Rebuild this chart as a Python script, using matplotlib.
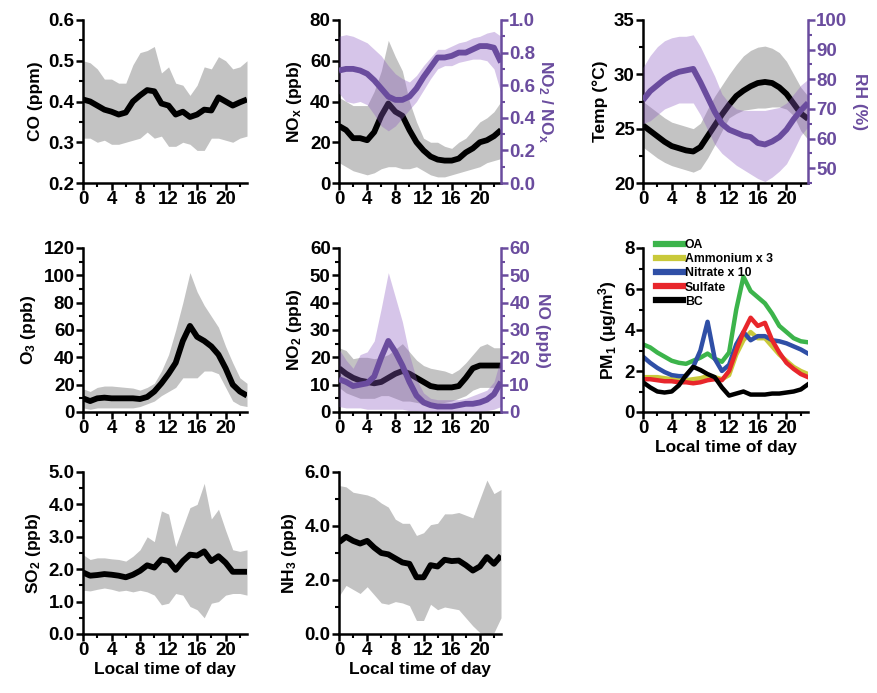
import matplotlib
matplotlib.use('Agg')
import matplotlib.pyplot as plt
from matplotlib.ticker import MultipleLocator, AutoMinorLocator, FormatStrFormatter
import numpy as np

plt.rcParams['font.family'] = ['Liberation Sans', 'DejaVu Sans']
plt.rcParams['font.weight'] = 'bold'
plt.rcParams['mathtext.fontset'] = 'custom'
plt.rcParams['mathtext.rm'] = 'Liberation Sans:bold'
plt.rcParams['mathtext.it'] = 'Liberation Sans:bold'
plt.rcParams['mathtext.bf'] = 'Liberation Sans:bold'

hours = np.arange(24)

co_mean = [0.405, 0.40, 0.39, 0.38, 0.375, 0.368, 0.373, 0.40, 0.415, 0.428, 0.425, 0.395,
           0.39, 0.368, 0.375, 0.362, 0.368, 0.38, 0.378, 0.41, 0.40, 0.39, 0.398, 0.405]
co_hi = [0.50, 0.495, 0.48, 0.455, 0.455, 0.445, 0.445, 0.49, 0.52, 0.525, 0.535, 0.47,
         0.485, 0.445, 0.44, 0.415, 0.44, 0.485, 0.48, 0.51, 0.50, 0.48, 0.485, 0.50]
co_lo = [0.31, 0.31, 0.30, 0.305, 0.295, 0.295, 0.30, 0.305, 0.31, 0.325, 0.31, 0.315,
         0.29, 0.29, 0.30, 0.295, 0.28, 0.28, 0.31, 0.31, 0.305, 0.30, 0.31, 0.315]

nox_mean = [28, 26, 22, 22, 21, 25, 33, 39, 35, 33, 26, 20, 16, 13, 11.5, 11, 11, 12, 15, 17, 20, 21, 23, 26]
nox_hi = [42, 40, 38, 38, 38, 45, 55, 70, 62, 55, 40, 30, 22, 20, 20, 18, 17, 20, 22, 26, 30, 32, 35, 40]
nox_lo = [10, 8, 6, 5, 4, 5, 7, 8, 8, 7, 7, 8, 6, 4, 3, 3, 4, 5, 6, 7, 8, 10, 11, 12]
ratio_mean = [0.69, 0.70, 0.70, 0.69, 0.67, 0.63, 0.58, 0.53, 0.51, 0.51, 0.53, 0.58,
              0.65, 0.71, 0.77, 0.77, 0.78, 0.80, 0.80, 0.82, 0.84, 0.84, 0.83, 0.74]
ratio_hi = [0.90, 0.91, 0.90, 0.88, 0.86, 0.82, 0.78, 0.72, 0.67, 0.64, 0.62, 0.66,
            0.72, 0.77, 0.82, 0.82, 0.84, 0.86, 0.87, 0.89, 0.90, 0.92, 0.93, 0.90]
ratio_lo = [0.55, 0.50, 0.49, 0.50, 0.48, 0.42, 0.35, 0.32, 0.35, 0.40, 0.45, 0.50,
            0.57, 0.64, 0.70, 0.72, 0.72, 0.74, 0.75, 0.76, 0.76, 0.75, 0.70, 0.55]

temp_mean = [25.3, 24.8, 24.3, 23.8, 23.4, 23.2, 23.0, 22.9, 23.3, 24.3, 25.3, 26.3,
             27.2, 28.0, 28.5, 28.9, 29.2, 29.3, 29.2, 28.8, 28.2, 27.3, 26.4, 25.9]
temp_hi = [27.5, 27.0, 26.5, 26.0, 25.6, 25.4, 25.2, 25.0, 25.5, 26.8, 28.0, 29.0,
           30.0, 30.9, 31.7, 32.2, 32.5, 32.6, 32.4, 32.0, 31.2, 30.0, 28.8, 28.0]
temp_lo = [23.3, 22.8, 22.3, 21.9, 21.6, 21.4, 21.2, 21.0, 21.3, 22.3, 23.5, 24.8,
           26.0, 26.4, 26.7, 26.8, 26.9, 26.9, 27.0, 27.0, 26.8, 26.2, 24.8, 24.0]
rh_mean = [73, 76, 78, 80, 81.5, 82.5, 83, 83.5, 79, 74, 69, 65, 63, 62, 61, 60.5, 58.5, 58, 59, 60.5, 63, 66.5, 69.5, 72]
rh_hi = [84, 88, 91, 93, 94, 94.5, 94.5, 95, 91, 86, 81, 75, 72, 70, 69.5, 69.5, 69.5, 69.5, 70, 70.5, 72, 75, 78, 80]
rh_lo = [65, 66, 68, 70, 71, 72, 72, 72, 68, 63, 58, 55, 53, 51, 49.5, 48, 46.5, 45.5, 47, 49, 51.5, 56, 61, 64]

o3_mean = [10, 8, 10, 10.5, 10, 10, 10, 10, 9.5, 11, 15, 21, 28, 36, 52, 63, 55, 52, 48, 42, 32, 20, 15, 12]
o3_hi = [17, 15, 18, 19, 19, 18.5, 18, 17.5, 16, 18, 21, 30, 42, 60, 80, 102, 88, 78, 70, 62, 48, 36, 25, 21]
o3_lo = [3, 2, 3, 3, 3, 3, 3, 3, 4, 6, 8, 12, 15, 18, 25, 25, 25, 30, 30, 28, 18, 8, 5, 4]

no2_mean = [16, 14, 12.5, 11.5, 11, 10.5, 11, 12.5, 14, 15, 14, 12.5, 11, 9.5, 9, 9, 9, 9.5, 12.5, 16, 17, 17, 17, 17]
no2_hi = [23.5, 22.5, 19.5, 20, 20, 19.5, 20, 21, 23, 25, 22, 19, 17, 16, 15.5, 15, 14, 15.5, 18, 21, 24, 25, 23.5, 23.5]
no2_lo = [9, 7, 6, 5, 5, 5, 6, 6, 5, 4, 4, 3.5, 3, 3, 3, 3.5, 4, 5, 6, 8, 9, 9, 9, 10]
no_mean = [12, 11, 9.5, 10, 10.5, 13, 20, 26, 22, 17, 11, 6, 3.5, 2.5, 2, 2, 2, 2.5, 3, 3, 3.5, 4.5, 6.5, 11]
no_hi = [23, 19, 16, 21, 22, 26, 38, 51, 42, 33, 21, 12, 7, 5, 4.5, 4.5, 4.5, 4.5, 5, 6, 7, 8, 11, 20]
no_lo = [2, 1.5, 1.5, 1.5, 1, 1, 1, 1, 1, 1, 0.5, 0.5, 0.3, 0.3, 0.3, 0.3, 0.3, 0.3, 0.3, 0.3, 0.3, 0.5, 1, 2]

pm_oa = [3.3, 3.15, 2.9, 2.7, 2.5, 2.4, 2.35, 2.5, 2.65, 2.85, 2.6, 2.45, 2.9, 5.0, 6.6, 5.9, 5.6, 5.3, 4.8, 4.2, 3.9, 3.6, 3.45, 3.4]
pm_nh4 = [1.7, 1.7, 1.7, 1.65, 1.6, 1.55, 1.55, 1.6, 1.65, 1.75, 1.7, 1.6, 1.8, 2.8, 3.5, 3.9, 3.6, 3.6, 3.2, 2.8, 2.5, 2.2, 2.0, 1.85]
pm_no3 = [2.7, 2.4, 2.15, 1.95, 1.8, 1.75, 1.75, 2.2, 3.0, 4.4, 2.6, 2.0, 2.3, 3.3, 3.9, 3.5, 3.7, 3.7, 3.5, 3.45, 3.35, 3.2, 3.05, 2.85]
pm_so4 = [1.6, 1.6, 1.55, 1.5, 1.5, 1.45, 1.45, 1.4, 1.45, 1.55, 1.6, 1.55, 2.0, 3.0, 3.9, 4.6, 4.2, 4.35, 3.5, 2.9, 2.4, 2.1, 1.85, 1.7]
pm_bc = [1.45, 1.2, 1.0, 0.95, 1.0, 1.3, 1.8, 2.2, 2.05, 1.85, 1.7, 1.2, 0.8, 0.9, 1.0, 0.85, 0.85, 0.85, 0.9, 0.9, 0.95, 1.0, 1.1, 1.35]
pm_labels = ['OA', 'Ammonium x 3', 'Nitrate x 10', 'Sulfate', 'BC']
pm_colors = ['#3cb44b', '#c9c93a', '#2f4fa6', '#e8262b', '#000000']

so2_mean = [1.9, 1.8, 1.82, 1.85, 1.83, 1.8, 1.75, 1.83, 1.95, 2.12, 2.05, 2.3, 2.25, 1.98, 2.25, 2.45, 2.42, 2.55, 2.25, 2.4, 2.2, 1.92, 1.92, 1.92]
so2_hi = [2.45, 2.3, 2.35, 2.35, 2.32, 2.3, 2.25, 2.4, 2.6, 3.0, 2.85, 3.8, 3.7, 2.7, 3.3, 3.9, 4.0, 4.65, 3.55, 3.85, 3.2, 2.6, 2.55, 2.6]
so2_lo = [1.35, 1.33, 1.38, 1.42, 1.38, 1.32, 1.35, 1.3, 1.35, 1.3, 1.2, 0.9, 0.95, 1.25, 1.2, 0.85, 0.75, 0.5, 0.95, 1.0, 1.2, 1.25, 1.25, 1.2]

nh3_mean = [3.4, 3.6, 3.45, 3.35, 3.45, 3.2, 3.0, 2.95, 2.8, 2.65, 2.6, 2.1, 2.1, 2.55, 2.5, 2.75, 2.7, 2.72, 2.55, 2.35, 2.5, 2.85, 2.6, 2.9]
nh3_hi = [5.5, 5.45, 5.25, 5.2, 5.15, 5.05, 4.85, 4.7, 4.25, 4.1, 4.1, 3.65, 3.75, 4.05, 4.1, 4.45, 4.45, 4.5, 4.4, 4.3, 5.0, 5.7, 5.2, 5.35]
nh3_lo = [1.4, 1.8, 1.65, 1.5, 1.75, 1.45, 1.15, 1.1, 1.2, 1.15, 1.05, 0.5, 0.5, 1.1, 0.9, 1.0, 0.95, 0.9, 0.6, 0.3, 0.05, 0.0, 0.05, 0.6]

GRAY = '#c3c3c3'
PURPLE = '#6a4c9e'
PFILL = '#8c5ac0'
TICK_FS = 13.5
LAB_FS = 12.5

W, H = 877, 693
cols = [83, 339, 643]
widths = [164, 162, 165]
rows = [(20, 183), (248, 412), (472, 634)]


def make_ax(fig, c, r):
    top, bot = rows[r]
    return fig.add_axes([cols[c] / W, 1 - bot / H, widths[c] / W, (bot - top) / H])


def style(ax, ymin, ymax, major, fmt, right=False, color='black'):
    ax.set_xlim(0, 23)
    ax.set_ylim(ymin, ymax)
    ax.xaxis.set_major_locator(MultipleLocator(4))
    ax.xaxis.set_minor_locator(MultipleLocator(2))
    ax.yaxis.set_major_locator(MultipleLocator(major))
    ax.yaxis.set_minor_locator(AutoMinorLocator(2))
    ax.yaxis.set_major_formatter(FormatStrFormatter(fmt))
    for s in ['top', 'right', 'left', 'bottom']:
        ax.spines[s].set_linewidth(1.8)
    ax.spines['top'].set_visible(False)
    ax.spines['right'].set_visible(right)
    ax.tick_params(which='major', length=5, width=1.8, labelsize=TICK_FS, pad=1)
    ax.tick_params(which='minor', length=3, width=1.5)
    for lab in ax.get_xticklabels() + ax.get_yticklabels():
        lab.set_fontweight('bold')


def twin(ax, ymin, ymax, major, fmt, label):
    tx = ax.twinx()
    tx.set_ylim(ymin, ymax)
    tx.yaxis.set_major_locator(MultipleLocator(major))
    tx.yaxis.set_minor_locator(AutoMinorLocator(2))
    tx.yaxis.set_major_formatter(FormatStrFormatter(fmt))
    for s in ['top', 'left', 'bottom']:
        tx.spines[s].set_visible(False)
    tx.spines['right'].set_linewidth(1.8)
    tx.spines['right'].set_color(PURPLE)
    tx.tick_params(axis='y', which='major', length=5, width=1.8, labelsize=TICK_FS,
                   colors=PURPLE, pad=1)
    tx.tick_params(axis='y', which='minor', length=3, width=1.5, colors=PURPLE)
    for lab in tx.get_yticklabels():
        lab.set_fontweight('bold')
    tx.set_ylabel(label, color=PURPLE, fontsize=LAB_FS, fontweight='bold', rotation=-90,
                  labelpad=14)
    return tx


def band(ax, mean, lo, hi, fill=GRAY, line='black', alpha=1.0):
    ax.fill_between(hours, lo, hi, color=fill, alpha=alpha, lw=0)
    ax.plot(hours, mean, color=line, lw=4.2, solid_capstyle='butt')


fig = plt.figure(figsize=(W / 100, H / 100), dpi=100)

# CO
ax = make_ax(fig, 0, 0)
band(ax, co_mean, co_lo, co_hi)
style(ax, 0.2, 0.6, 0.1, '%.1f')
ax.set_ylabel('CO (ppm)', fontsize=LAB_FS, fontweight='bold')

# NOx and NO2/NOx
ax = make_ax(fig, 1, 0)
band(ax, nox_mean, nox_lo, nox_hi)
style(ax, 0, 80, 20, '%d')
ax.set_ylabel('NO$_x$ (ppb)', fontsize=LAB_FS, fontweight='bold')
tx = twin(ax, 0, 1.0, 0.2, '%.1f', 'NO$_2$ / NO$_x$')
band(tx, ratio_mean, ratio_lo, ratio_hi, fill=PFILL, line=PURPLE, alpha=0.35)

# Temp and RH
ax = make_ax(fig, 2, 0)
band(ax, temp_mean, temp_lo, temp_hi)
style(ax, 20, 35, 5, '%d')
ax.set_ylabel('Temp (°C)', fontsize=LAB_FS, fontweight='bold')
tx = twin(ax, 45, 100, 10, '%d', 'RH (%)')
tx.set_yticks([50, 60, 70, 80, 90, 100])
band(tx, rh_mean, rh_lo, rh_hi, fill=PFILL, line=PURPLE, alpha=0.35)

# O3
ax = make_ax(fig, 0, 1)
band(ax, o3_mean, o3_lo, o3_hi)
style(ax, 0, 120, 20, '%d')
ax.set_ylabel('O$_3$ (ppb)', fontsize=LAB_FS, fontweight='bold')

# NO2 and NO
ax = make_ax(fig, 1, 1)
band(ax, no2_mean, no2_lo, no2_hi)
style(ax, 0, 60, 10, '%d')
ax.set_ylabel('NO$_2$ (ppb)', fontsize=LAB_FS, fontweight='bold')
tx = twin(ax, 0, 60, 10, '%d', 'NO (ppb)')
band(tx, no_mean, no_lo, no_hi, fill=PFILL, line=PURPLE, alpha=0.35)

# PM1
ax = make_ax(fig, 2, 1)
for vals, lab, col in zip([pm_oa, pm_nh4, pm_no3, pm_so4, pm_bc], pm_labels, pm_colors):
    ax.plot(hours, vals, color=col, lw=3.2, label=lab)
style(ax, 0, 8, 2, '%d')
ax.set_ylabel('PM$_1$ (μg/m$^3$)', fontsize=LAB_FS, fontweight='bold')
ax.set_xlabel('Local time of day', fontsize=LAB_FS, fontweight='bold', labelpad=2)
leg = ax.legend(loc='upper left', bbox_to_anchor=(0.05, 1.085), frameon=False,
                prop={'size': 8.8, 'weight': 'bold'}, handlelength=2.2, handletextpad=0.15,
                labelspacing=0.18, borderaxespad=0)
for h in leg.get_lines():
    h.set_linewidth(4.5)

# SO2
ax = make_ax(fig, 0, 2)
band(ax, so2_mean, so2_lo, so2_hi)
style(ax, 0, 5, 1, '%.1f')
ax.set_ylabel('SO$_2$ (ppb)', fontsize=LAB_FS, fontweight='bold')
ax.set_xlabel('Local time of day', fontsize=LAB_FS, fontweight='bold', labelpad=2)

# NH3
ax = make_ax(fig, 1, 2)
band(ax, nh3_mean, nh3_lo, nh3_hi)
style(ax, 0, 6, 2, '%.1f')
ax.set_ylabel('NH$_3$ (ppb)', fontsize=LAB_FS, fontweight='bold')
ax.set_xlabel('Local time of day', fontsize=LAB_FS, fontweight='bold', labelpad=2)

fig.savefig('out.png', dpi=100)
